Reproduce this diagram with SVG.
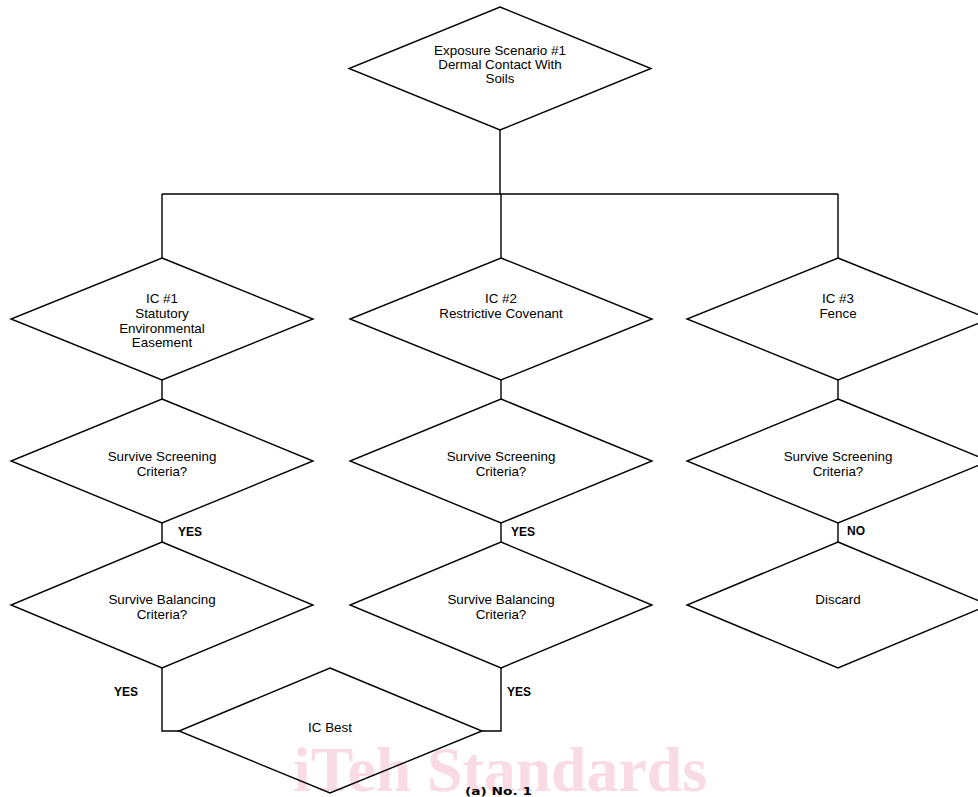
<svg xmlns="http://www.w3.org/2000/svg" width="978" height="797" viewBox="0 0 978 797">
<style>
.n{fill:none;stroke:#000;stroke-width:1.4;stroke-linejoin:miter}
.c{fill:none;stroke:#000;stroke-width:1.4}
.t{font-family:"Liberation Sans",Arial,sans-serif;font-size:13.4px;fill:#000;text-anchor:middle}
.l{font-family:"Liberation Sans",Arial,sans-serif;font-size:12px;font-weight:bold;fill:#000}
.wm{font-family:"Liberation Serif","Times New Roman",serif;font-size:64px;font-weight:bold;fill:#f8dbe5}
.cap{font-family:"DejaVu Sans",Verdana,sans-serif;font-size:11px;font-weight:bold;fill:#000}
</style>
<rect width="978" height="797" fill="#fff"/>
<text class="wm" x="293" y="791" textLength="414" lengthAdjust="spacingAndGlyphs">iTeh Standards</text>
<g id="connectors">
<path class="c" d="M500,130V194M162,194H838M162,194V258M501,194V258M838,194V258"/>
<path class="c" d="M162,380V399M501,380V399M838,380V399"/>
<path class="c" d="M162,523V542M501,523V542M838,523V542"/>
<path class="c" d="M162,668V731H180M501,668V731H482"/>
</g>
<g id="exposure">
<polygon class="n" points="500,7 651,68.5 500,130 349,68.5"/>
<text class="t" x="500" y="55">Exposure Scenario #1</text>
<text class="t" x="500" y="69">Dermal Contact With</text>
<text class="t" x="500" y="83">Soils</text>
</g>
<g id="ic1">
<polygon class="n" points="162,258 313,319 162,380 11,319"/>
<text class="t" x="162" y="303">IC #1</text>
<text class="t" x="162" y="318">Statutory</text>
<text class="t" x="162" y="333">Environmental</text>
<text class="t" x="162" y="347">Easement</text>
</g>
<g id="ic2">
<polygon class="n" points="501,258 652,319 501,380 350,319"/>
<text class="t" x="501" y="303">IC #2</text>
<text class="t" x="501" y="318">Restrictive Covenant</text>
</g>
<g id="ic3">
<polygon class="n" points="838,258 989,319 838,380 687,319"/>
<text class="t" x="838" y="303">IC #3</text>
<text class="t" x="838" y="318">Fence</text>
</g>
<g id="screen1">
<polygon class="n" points="162,399 313,461 162,523 11,461"/>
<text class="t" x="162" y="461">Survive Screening</text>
<text class="t" x="162" y="476">Criteria?</text>
</g>
<g id="screen2">
<polygon class="n" points="501,399 652,461 501,523 350,461"/>
<text class="t" x="501" y="461">Survive Screening</text>
<text class="t" x="501" y="476">Criteria?</text>
</g>
<g id="screen3">
<polygon class="n" points="838,399 989,461 838,523 687,461"/>
<text class="t" x="838" y="461">Survive Screening</text>
<text class="t" x="838" y="476">Criteria?</text>
</g>
<g id="balance1">
<polygon class="n" points="162,542 313,605 162,668 11,605"/>
<text class="t" x="162" y="604">Survive Balancing</text>
<text class="t" x="162" y="619">Criteria?</text>
</g>
<g id="balance2">
<polygon class="n" points="501,542 652,605 501,668 350,605"/>
<text class="t" x="501" y="604">Survive Balancing</text>
<text class="t" x="501" y="619">Criteria?</text>
</g>
<g id="discard">
<polygon class="n" points="838,542 989,605 838,668 687,605"/>
<text class="t" x="838" y="604">Discard</text>
</g>
<g id="icbest">
<polygon class="n" points="330,668 482,731 330,793 179,731"/>
<text class="t" x="330" y="732">IC Best</text>
</g>
<g id="labels">
<text class="l" x="178" y="536">YES</text>
<text class="l" x="511" y="536">YES</text>
<text class="l" x="847" y="535">NO</text>
<text class="l" x="114" y="696">YES</text>
<text class="l" x="507" y="696">YES</text>
</g>
<text class="cap" x="465" y="795" textLength="67" lengthAdjust="spacingAndGlyphs">(a) No. 1</text>
</svg>
